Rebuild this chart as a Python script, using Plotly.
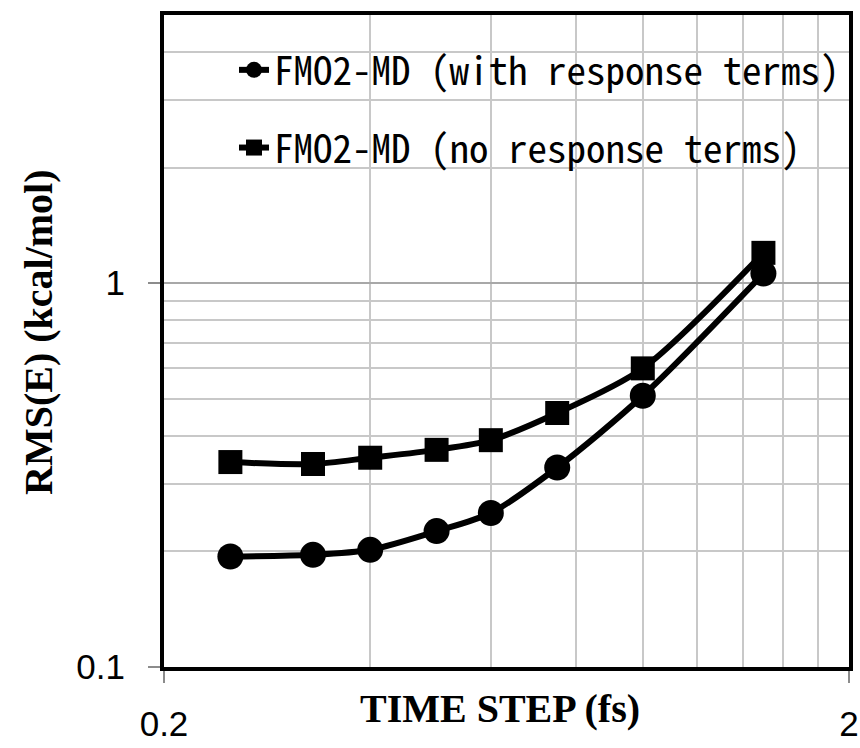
import math
import plotly.graph_objects as go

# Time step (fs) and RMS energy error (kcal/mol) for the two FMO2-MD runs
time_step = [0.25, 0.33, 0.4, 0.5, 0.6, 0.75, 1.0, 1.5]
rms_with_response = [0.194, 0.196, 0.202, 0.226, 0.252, 0.331, 0.509, 1.06]
rms_no_response = [0.342, 0.338, 0.351, 0.368, 0.390, 0.459, 0.600, 1.20]

series_names = ["FMO2-MD (with response terms)", "FMO2-MD (no response terms)"]

# Axis ticks and gridlines
x_major_ticks = [0.2, 2]
x_major_labels = ["0.2", "2"]
x_minor_grid = [0.4, 0.6, 0.8, 1.0, 1.2, 1.4, 1.6, 1.8]
y_major_ticks = [0.1, 1]
y_major_labels = ["0.1", "1"]
y_minor_grid = [0.2, 0.3, 0.4, 0.5, 0.6, 0.7, 0.8, 0.9, 2, 3, 4]
x_range = [0.2, 2]
y_range = [0.1, 5]

W, H = 860, 748
M_L, M_R, M_T, M_B = 164, 11, 15, 81
PW = W - M_L - M_R
PH = H - M_T - M_B


def px_x(px):
    return (px - M_L) / PW


def px_y(py):
    return 1 - (py - M_T) / PH


fig = go.Figure()

fig.add_trace(go.Scatter(
    x=time_step, y=rms_with_response, name=series_names[0],
    mode="lines+markers", legendgroup="a",
    line=dict(color="black", width=6, shape="spline", smoothing=0.8),
    marker=dict(symbol="circle", size=26, color="black"),
))
fig.add_trace(go.Scatter(
    x=time_step, y=rms_no_response, name=series_names[1],
    mode="lines+markers", legendgroup="b",
    line=dict(color="black", width=6, shape="spline", smoothing=0.8),
    marker=dict(symbol="square", size=24, color="black"),
))

axis_common = dict(
    type="log", automargin=False,
    showline=True, linecolor="black", linewidth=4, mirror=True,
    ticks="outside", ticklen=12, tickcolor="#8c8c8c", tickwidth=1.5,
    tickfont=dict(family="Liberation Sans", size=35, color="black"),
    tickmode="array", zeroline=False,
)

fig.update_xaxes(
    **axis_common,
    range=[math.log10(x_range[0]), math.log10(x_range[1])],
    tickvals=x_major_ticks, ticktext=x_major_labels,
    showgrid=True, gridcolor="#c8c8c8", gridwidth=1.5,
    ticklabelstandoff=11,
    minor=dict(tickmode="array", tickvals=x_minor_grid, showgrid=True,
               gridcolor="#c8c8c8", gridwidth=1.5, ticks=""),
)
fig.update_yaxes(
    **axis_common,
    range=[math.log10(y_range[0]), math.log10(y_range[1])],
    tickvals=y_major_ticks, ticktext=y_major_labels,
    showgrid=True, gridcolor="#a8a8a8", gridwidth=1.5,
    ticklabelstandoff=16,
    minor=dict(tickmode="array", tickvals=y_minor_grid, showgrid=True,
               gridcolor="#c8c8c8", gridwidth=1.5, ticks=""),
)

# White panel behind the legend, hiding the gridlines there
fig.add_shape(
    type="rect", xref="paper", yref="paper", layer="between",
    x0=px_x(223), x1=1, y0=px_y(186), y1=px_y(32),
    fillcolor="white", line=dict(width=0),
)

fig.add_annotation(
    text="<b>TIME STEP (fs)</b>", xref="paper", yref="paper",
    x=px_x(500), y=px_y(708), xanchor="center", yanchor="middle",
    showarrow=False,
    font=dict(family="Liberation Serif", size=40, color="black"),
)
fig.add_annotation(
    text="<b>RMS(E) (kcal/mol)</b>", xref="paper", yref="paper",
    x=px_x(38), y=px_y(332), xanchor="center", yanchor="middle",
    textangle=-90, showarrow=False,
    font=dict(family="Liberation Serif", size=40, color="black"),
)

fig.update_layout(
    width=W, height=H,
    margin=dict(l=M_L, r=M_R, t=M_T, b=M_B, pad=0, autoexpand=False),
    paper_bgcolor="white", plot_bgcolor="white",
    showlegend=True,
    legend=dict(
        x=px_x(234), y=px_y(38), xanchor="left", yanchor="top",
        bgcolor="rgba(0,0,0,0)", borderwidth=0,
        font=dict(family="Noto Sans Mono CJK JP, DejaVu Sans Mono",
                  size=39, color="black"),
        traceorder="grouped", tracegroupgap=24,
        itemwidth=30,
    ),
)

fig.write_html("out.html")
